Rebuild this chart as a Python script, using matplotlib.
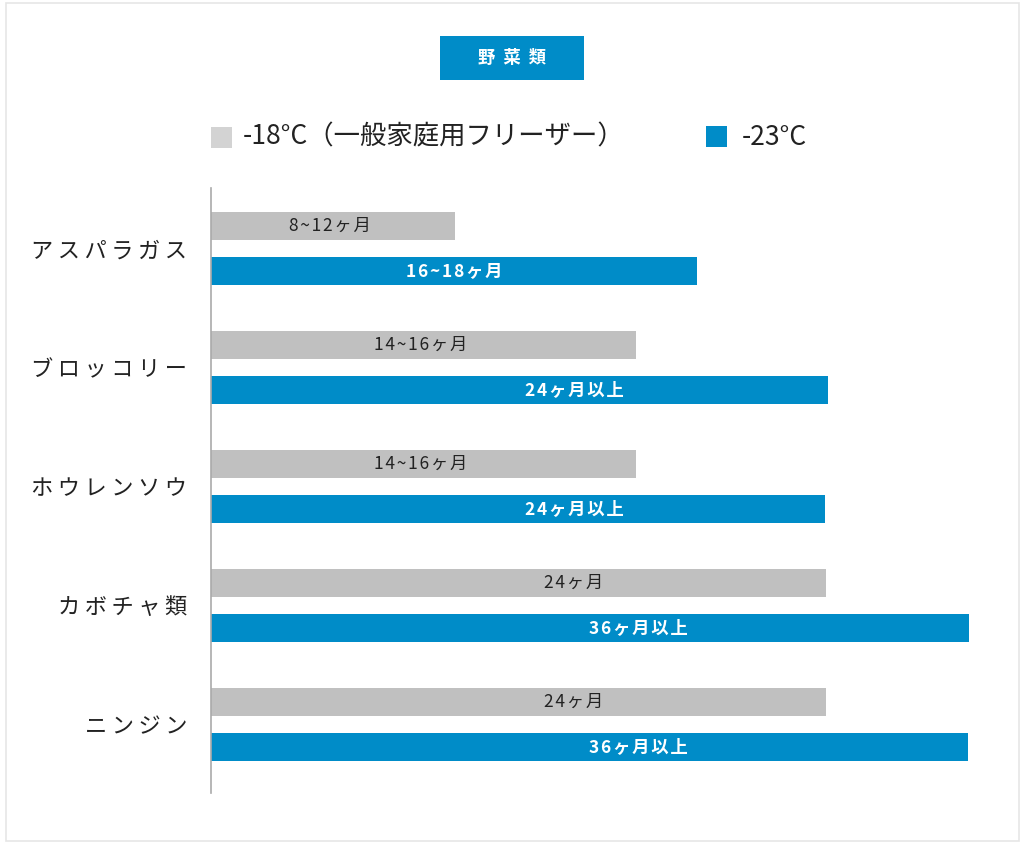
import matplotlib
matplotlib.use("Agg")
import matplotlib.pyplot as plt
from matplotlib.patches import Rectangle

plt.rcParams["font.family"] = ["Noto Sans CJK JP", "DejaVu Sans"]

# データ（バーの長さは図から読み取った相対値）
categories = ["アスパラガス", "ブロッコリー", "ホウレンソウ", "カボチャ類", "ニンジン"]
home_len = [244, 425, 425, 615, 615]
cold_len = [486, 617, 614, 758, 757]
home_labels = ["8~12ヶ月", "14~16ヶ月", "14~16ヶ月", "24ヶ月", "24ヶ月"]
cold_labels = ["16~18ヶ月", "24ヶ月以上", "24ヶ月以上", "36ヶ月以上", "36ヶ月以上"]
home_label_x = [119, 210, 210, 363, 363]
cold_label_x = [243, 363, 363, 427, 427]
legend_names = ["-18°C（一般家庭用フリーザー）", "-23°C"]
title = "野菜類"

GRAY = "#c0c0c0"
LGRAY = "#d3d3d3"
BLUE = "#008cc8"

HAIR = "\u200a"
THIN = "\u2009"


def spaced(s, sep):
    # 字間を少し空ける
    return sep.join(s)


W, H = 1024, 847
fig = plt.figure(figsize=(W / 100, H / 100), dpi=100)
fig.patch.set_facecolor("white")

# 外枠
fig.patches.append(Rectangle((6 / W, 1 - 841 / H), 1013 / W, 838 / H,
                             transform=fig.transFigure, facecolor="none",
                             edgecolor="#e6e6e6", linewidth=1.2, zorder=-1))

# タイトルボックス
fig.patches.append(Rectangle((440 / W, 1 - 80 / H), 144 / W, 44 / H,
                             transform=fig.transFigure, facecolor=BLUE,
                             edgecolor="none", zorder=1))
fig.text(512 / W, 1 - 58 / H, spaced(title, "  "), color="white", fontsize=12.5,
         fontweight="bold", ha="center", va="center")

# 凡例
fig.patches.append(Rectangle((211 / W, 1 - 148 / H), 21 / W, 21 / H,
                             transform=fig.transFigure, facecolor=LGRAY,
                             edgecolor="none"))
fig.text(243 / W, 1 - 137 / H, legend_names[0], fontsize=19, color="#222222",
         ha="left", va="center")
fig.patches.append(Rectangle((706 / W, 1 - 147 / H), 21 / W, 21 / H,
                             transform=fig.transFigure, facecolor=BLUE,
                             edgecolor="none"))
fig.text(742 / W, 1 - 137 / H, legend_names[1], fontsize=19, color="#222222",
         ha="left", va="center")

# 棒グラフ
ax = fig.add_axes([211 / W, 1 - 793 / H, 789 / W, 605 / H])
ax.set_facecolor("none")
y = list(range(len(categories)))
h = 0.235
off = 0.19
ax.barh([v - off for v in y], home_len, height=h, color=GRAY)
ax.barh([v + off for v in y], cold_len, height=h, color=BLUE)

for i in y:
    ax.text(home_label_x[i], i - off, spaced(home_labels[i], HAIR),
            ha="center", va="center", fontsize=12.5, color="#222222")
    ax.text(cold_label_x[i], i + off, spaced(cold_labels[i], HAIR),
            ha="center", va="center", fontsize=12.5, color="white",
            fontweight="bold")

ax.set_xlim(0, 789)
ax.set_ylim(len(categories) - 1 + 0.576, -0.508)
ax.set_yticks(y)
ax.set_yticklabels([spaced(c, THIN) for c in categories], fontsize=16,
                   color="#222222")
ax.tick_params(axis="y", length=0, pad=17)
ax.set_xticks([])
for s in ["top", "right", "bottom"]:
    ax.spines[s].set_visible(False)
ax.spines["left"].set_color("#aaaaaa")
ax.spines["left"].set_linewidth(1.2)

fig.savefig("out.png", dpi=100, facecolor="white")
